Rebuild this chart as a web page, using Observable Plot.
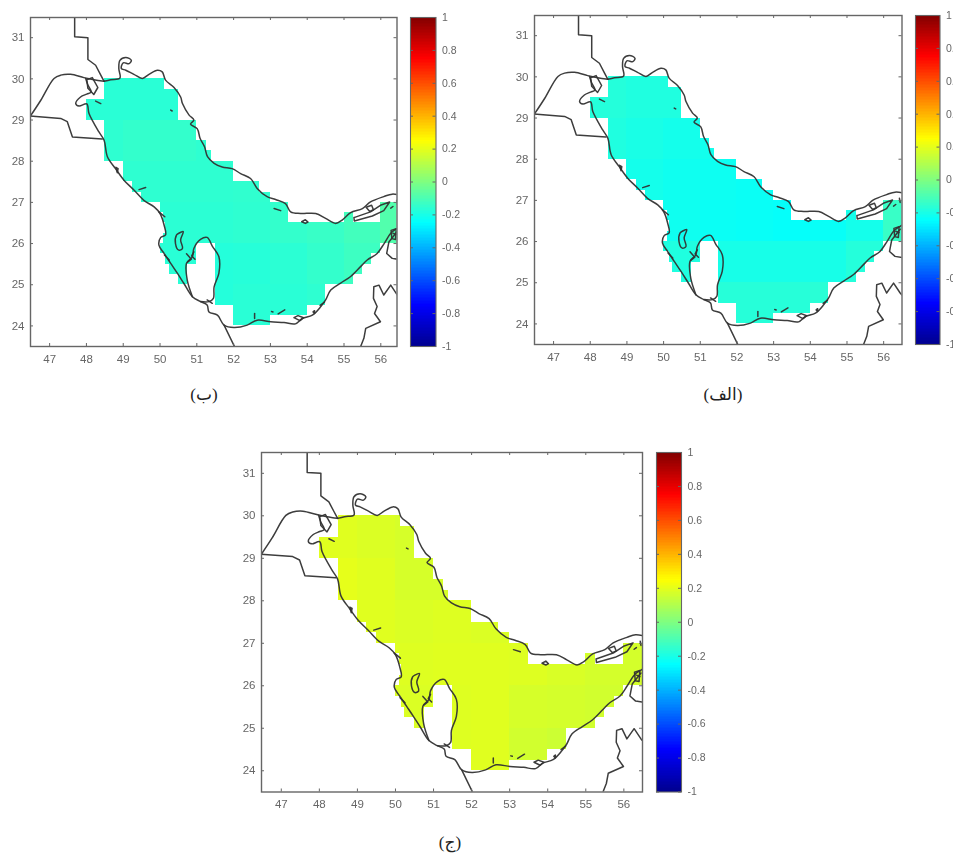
<!DOCTYPE html>
<html><head><meta charset="utf-8">
<script src="https://cdn.jsdelivr.net/npm/d3@7"></script>
<script src="https://cdn.jsdelivr.net/npm/@observablehq/plot@0.6"></script>
<style>
html,body{margin:0;padding:0;background:#fff;overflow:hidden}
#page{position:relative;width:953px;height:859px;overflow:hidden}
#page svg{position:absolute;overflow:hidden;background:transparent;filter:blur(0.45px)}
.cap{position:absolute;font:17px "Liberation Serif","DejaVu Serif","DejaVu Sans",serif;color:#222;transform:translateX(-50%);direction:rtl;white-space:nowrap}
</style></head><body><div id="page"></div>
<script>
// ---------- data ----------
const xTicks = [47,48,49,50,51,52,53,54,55,56];
const yTicks = [24,25,26,27,28,29,30,31];
const barTicks = [-1,-0.8,-0.6,-0.4,-0.2,0,0.2,0.4,0.6,0.8,1];
const jetDomain = [-1,-0.75,-0.25,0.25,0.75,1];
const jetRange = ["#00008f","#0000ff","#00ffff","#ffff00","#ff0000","#800000"];
const tableLons = [48,49,50,51,52,53,54,55,56];
const tableLats = [29,28,27,26,25,24];

// sea mask: top latitude of a 0.25 degree row, then lon ranges
const seaRows = [
 [30,[[48.5,50.12]]],
 [29.75,[[48.5,50.5]]],
 [29.5,[[48,50.5]]],
 [29.25,[[48,50.5]]],
 [29,[[48.5,51]]],
 [28.75,[[48.5,51]]],
 [28.5,[[48.5,51.25]]],
 [28.25,[[48.5,51.4]]],
 [28,[[49,52]]],
 [27.75,[[49,52]]],
 [27.5,[[49.25,52.7]]],
 [27.25,[[49.5,53]]],
 [27,[[50,53.5],[56,56.6]]],
 [26.75,[[50.1,53.5],[55,55.25],[56,56.6]]],
 [26.5,[[50.15,56.6]]],
 [26.25,[[50.1,56.6]]],
 [26,[[50,51],[51.5,56]]],
 [25.75,[[50.15,51],[51.5,55.75]]],
 [25.5,[[50.25,50.75],[51.5,55.5]]],
 [25.25,[[50.5,50.75],[51.5,55.25]]],
 [25,[[51.5,54.5]]],
 [24.75,[[51.5,54.5]]],
 [24.5,[[52,54]]],
 [24.25,[[52,53]]]
];
// values per 1 degree block, rows tableLats, columns tableLons
const valuesB = [
 [-0.17,-0.17,-0.17,-0.17,-0.17,-0.16,-0.15,-0.14,-0.12],
 [-0.16,-0.15,-0.15,-0.16,-0.16,-0.15,-0.14,-0.13,-0.12],
 [-0.16,-0.16,-0.16,-0.16,-0.155,-0.15,-0.14,-0.13,-0.10],
 [-0.16,-0.16,-0.165,-0.165,-0.16,-0.15,-0.14,-0.12,-0.09],
 [-0.17,-0.17,-0.17,-0.18,-0.175,-0.165,-0.15,-0.13,-0.11],
 [-0.17,-0.17,-0.17,-0.18,-0.17,-0.17,-0.16,-0.14,-0.12]
];
const valuesA = [
 [-0.18,-0.19,-0.19,-0.19,-0.19,-0.19,-0.19,-0.19,-0.15],
 [-0.19,-0.20,-0.21,-0.215,-0.21,-0.21,-0.21,-0.19,-0.15],
 [-0.19,-0.21,-0.22,-0.225,-0.23,-0.23,-0.225,-0.21,-0.15],
 [-0.18,-0.20,-0.22,-0.23,-0.235,-0.24,-0.235,-0.21,-0.14],
 [-0.16,-0.17,-0.19,-0.205,-0.205,-0.205,-0.205,-0.18,-0.13],
 [-0.16,-0.16,-0.16,-0.175,-0.175,-0.175,-0.17,-0.16,-0.13]
];
const valuesC = [
 [0.19,0.18,0.17,0.17,0.17,0.17,0.17,0.17,0.17],
 [0.20,0.19,0.17,0.17,0.175,0.17,0.17,0.17,0.17],
 [0.19,0.19,0.18,0.185,0.18,0.17,0.17,0.17,0.165],
 [0.19,0.19,0.185,0.19,0.19,0.185,0.175,0.165,0.165],
 [0.19,0.19,0.18,0.185,0.19,0.17,0.165,0.16,0.16],
 [0.19,0.19,0.18,0.185,0.19,0.16,0.15,0.15,0.15]
];

// coast lines, [lon, lat]
const coastNorth = [[48.48,29.94],[48.66,29.98],[48.91,30.02],[48.88,30.25],[48.91,30.45],[49.07,30.52],[49.22,30.45],[49.16,30.37],[49.00,30.39],[48.95,30.25],[49.07,30.21],[49.29,30.11],[49.52,30.01],[49.70,30.11],[49.93,30.21],[50.06,30.17],[50.15,29.97],[50.38,29.79],[50.56,29.56],[50.61,29.40],[50.79,29.12],[50.92,29.00],[50.83,28.90],[51.01,28.79],[51.09,28.55],[51.21,28.35],[51.29,28.11],[51.47,27.95],[51.69,27.86],[51.96,27.82],[52.19,27.70],[52.46,27.58],[52.64,27.34],[52.91,27.14],[53.14,27.07],[53.41,26.97],[53.55,26.77],[53.82,26.73],[54.23,26.73],[54.50,26.61],[54.77,26.49],[54.95,26.57],[55.18,26.75],[55.50,26.85],[55.72,27.01],[56.08,27.14],[56.31,27.20],[56.60,27.16]];
const coastSouth = [[56.60,26.45],[56.45,26.37],[56.27,26.25],[56.09,26.00],[55.90,25.76],[55.63,25.60],[55.45,25.44],[55.18,25.20],[54.91,25.04],[54.64,24.87],[54.50,24.63],[54.37,24.47],[54.14,24.26],[53.87,24.18],[53.68,24.05],[53.37,24.08],[53.01,24.10],[52.64,24.14],[52.37,24.02],[52.01,23.96],[51.74,24.02],[51.56,24.26],[51.33,24.34],[51.28,24.51],[51.10,24.59],[50.88,24.71],[50.65,25.03],[50.47,25.28],[50.29,25.52],[50.11,25.76],[49.97,25.96],[50.02,26.15],[50.15,26.21],[50.11,26.45],[50.00,26.73],[49.84,26.89],[49.56,27.05],[49.29,27.30],[49.02,27.54],[48.79,27.82],[48.57,28.11],[48.48,28.51],[48.34,28.71],[48.07,29.16],[48.01,29.39],[47.80,29.34],[47.71,29.40],[47.84,29.56],[48.01,29.63],[48.13,29.68],[48.04,29.85],[47.98,30.01]];
const kuwaitNorth = [[46.48,29.10],[46.76,29.48],[47.12,30.01],[47.30,30.09],[47.57,30.11],[47.93,30.03],[48.20,29.98],[48.48,29.94]];
const qatar = [[50.88,24.71],[50.74,25.11],[50.72,25.52],[50.88,25.68],[50.92,25.88],[51.10,26.10],[51.28,26.15],[51.42,25.94],[51.60,25.68],[51.60,25.28],[51.47,24.95],[51.45,24.67],[51.33,24.59],[51.10,24.59]];
const bahrain = [[50.51,26.25],[50.63,26.29],[50.56,26.09],[50.61,25.88],[50.51,25.84],[50.42,26.00],[50.45,26.21],[50.51,26.25]];
// borders and angular shapes, [lon, lat]
const bubiyan = [[48.01,29.98],[48.16,30.03],[48.31,29.79],[48.20,29.62],[48.04,29.77],[48.01,29.98]];
const iraqIran = [[47.68,31.60],[47.68,31.02],[48.04,31.00],[48.04,30.47],[48.25,30.33],[48.39,30.09],[48.48,29.94]];
const kuwaitSaudi = [[46.40,29.10],[47.30,29.04],[47.48,28.96],[47.62,28.59],[48.43,28.54]];
const saudiUae = [[51.74,24.02],[52.05,23.45]];
const qeshm = [[55.27,26.63],[55.72,26.77],[55.99,26.93],[56.24,27.01],[56.08,26.80],[55.77,26.67],[55.28,26.55],[55.27,26.63]];
const omanBorder = [[56.45,26.30],[56.22,26.04],[56.16,25.76],[56.31,25.64],[56.60,25.60]];
const uaeBorder = [[56.60,24.60],[56.45,24.75],[56.27,24.99],[56.08,24.75],[55.95,24.99],[55.81,24.95],[55.80,24.67],[55.90,24.47],[55.83,24.30],[55.99,24.10],[55.59,23.94],[55.54,23.70],[55.43,23.45]];
const islands = [
 [[48.25,29.46],[48.39,29.40]],
 [[50.29,29.24],[50.33,29.22]],
 [[48.80,27.85],[48.86,27.82],[48.84,27.72],[48.80,27.85]],
 [[49.43,27.31],[49.61,27.36]],
 [[49.97,26.77],[50.13,26.65]],
 [[50.72,25.75],[50.85,25.62],[50.75,25.55]],
 [[51.28,24.63],[51.42,24.55]],
 [[52.57,24.30],[52.57,24.18]],
 [[53.03,24.35],[53.07,24.34]],
 [[53.21,24.29],[53.39,24.39]],
 [[53.64,24.20],[53.75,24.25],[53.90,24.20],[53.80,24.13],[53.64,24.20]],
 [[54.16,24.34],[54.20,24.37],[54.20,24.30],[54.16,24.34]],
 [[54.35,24.50],[54.47,24.58]],
 [[53.10,26.85],[53.28,26.80]],
 [[53.85,26.53],[53.95,26.58],[54.02,26.52],[53.95,26.49],[53.85,26.53]],
 [[55.60,26.88],[55.75,26.93],[55.80,26.82],[55.70,26.78],[55.60,26.88]],
 [[56.27,26.86],[56.33,26.90]],
 [[56.28,26.32],[56.42,26.36],[56.40,26.10],[56.30,26.12],[56.28,26.32]],
 [[56.33,26.25],[56.42,26.22]],
 [[56.43,27.05],[56.45,26.95]],
 [[50.12,25.72],[50.25,25.60]],
 [[50.92,25.80],[50.86,25.70],[50.95,25.62]]
];
const captionB = "(ب)", captionA = "(الف)", captionC = "(ج)";

// ---------- tables for the marks ----------
const toRows = ls => ls.flatMap((l,i)=>l.map(([lon,lat])=>({id:i,lon,lat})));
const curvedLines = toRows([coastNorth,coastSouth,kuwaitNorth,qatar,bahrain]);
const straightLines = toRows([bubiyan,iraqIran,kuwaitSaudi,saudiUae,qeshm,omanBorder,uaeBorder].concat(islands));

function seaCells(table){
  const out=[];
  for(const [top,ranges] of seaRows){
    const lat=top-0.25, r=table[tableLats.indexOf(Math.floor(lat))];
    for(const [a,b] of ranges){
      let s=a;
      while(s<b){
        const e=Math.min(b,Math.floor(s)+1);
        const col=Math.min(tableLons.length-1,tableLons.indexOf(Math.floor(s)));
        out.push({x1:s,x2:e,y1:lat,y2:top,v:r[col]});
        s=e;
      }
    }
  }
  return out;
}
const levels=220, step=2/levels;
const barCells=d3.range(levels).map(i=>({v0:-1+i*step,v1:-1+(i+1)*step,v:-1+(i+0.5)*step}));
const color={type:"linear",domain:jetDomain,range:jetRange,interpolate:"rgb"};
const ink="#666", font="Liberation Sans, Arial, sans-serif";
const page=document.getElementById("page");
function place(svg,left,top){svg.style.left=left+"px";svg.style.top=top+"px";page.appendChild(svg);}

function panel(o){
  const pad=30,w=o.right-o.left,h=o.bottom-o.top;
  const map=Plot.plot({
    width:w+pad+6,height:h+pad+14,
    marginLeft:pad,marginRight:6,marginTop:14,marginBottom:pad,
    style:{fontFamily:font,background:"transparent"},
    x:{domain:[46.48,o.east],axis:null},y:{domain:[23.5,31.49],axis:null},
    color,
    marks:[
      Plot.rect(seaCells(o.values),{x1:"x1",x2:"x2",y1:"y1",y2:"y2",fill:"v",shapeRendering:"crispEdges",clip:true}),
      Plot.line(curvedLines,{x:"lon",y:"lat",z:"id",stroke:"#333",strokeWidth:1.5,strokeOpacity:0.95,curve:"catmull-rom",clip:true}),
      Plot.line(straightLines,{x:"lon",y:"lat",z:"id",stroke:"#333",strokeWidth:1.5,strokeOpacity:0.95,clip:true}),
      Plot.frame({stroke:ink,strokeWidth:1.4}),
      Plot.tickX(xTicks,{x:d=>d,stroke:ink,insetTop:h-3}),
      Plot.tickX(xTicks,{x:d=>d,stroke:ink,insetBottom:h-3}),
      Plot.tickY(yTicks,{y:d=>d,stroke:ink,insetLeft:w-3}),
      Plot.tickY(yTicks,{y:d=>d,stroke:ink,insetRight:w-3}),
      Plot.axisX(xTicks,{anchor:"bottom",tickSize:0,tickPadding:8,label:null,fontSize:11.5,color:ink,fill:ink,stroke:null}),
      Plot.axisY(yTicks,{anchor:"left",tickSize:0,tickPadding:6,label:null,fontSize:11.5,color:ink,fill:ink,stroke:null})
    ]
  });
  place(map,o.left-pad,o.top-14);

  const bw=o.barRight-o.barLeft;
  const bar=Plot.plot({
    width:bw+46,height:h+28,
    marginLeft:6,marginRight:40,marginTop:14,marginBottom:14,
    style:{fontFamily:font,background:"transparent"},
    x:{domain:[0,1],axis:null},y:{domain:[-1,1],axis:null},
    color,
    marks:[
      Plot.rect(barCells,{x1:0,x2:1,y1:"v0",y2:"v1",fill:"v",shapeRendering:"crispEdges"}),
      Plot.frame({stroke:ink,strokeWidth:1.1}),
      Plot.tickY(barTicks,{y:d=>d,stroke:ink,insetLeft:bw-3}),
      Plot.tickY(barTicks,{y:d=>d,stroke:ink,insetRight:bw-3}),
      Plot.axisY(barTicks,{anchor:"right",tickSize:0,tickPadding:6,label:null,fontSize:10.5,color:ink,fill:ink,stroke:null,
        tickFormat:d=>String(+d.toFixed(1))})
    ]
  });
  place(bar,o.barLeft-6,o.top-14);

  const c=document.createElement("div");
  c.className="cap";c.textContent=o.caption;
  c.style.left=o.capX+"px";c.style.top=o.capY+"px";
  page.appendChild(c);
}

panel({left:30,right:396.5,top:17,bottom:346,east:56.44,barLeft:410,barRight:435.5,values:valuesB,caption:captionB,capX:204,capY:384});
panel({left:533.5,right:901,top:15,bottom:344,east:56.5,barLeft:914.5,barRight:939,values:valuesA,caption:captionA,capX:723,capY:384});
panel({left:261,right:642,top:452,bottom:791.5,east:56.49,barLeft:656,barRight:681,values:valuesC,caption:captionC,capX:450,capY:832});
</script></body></html>
